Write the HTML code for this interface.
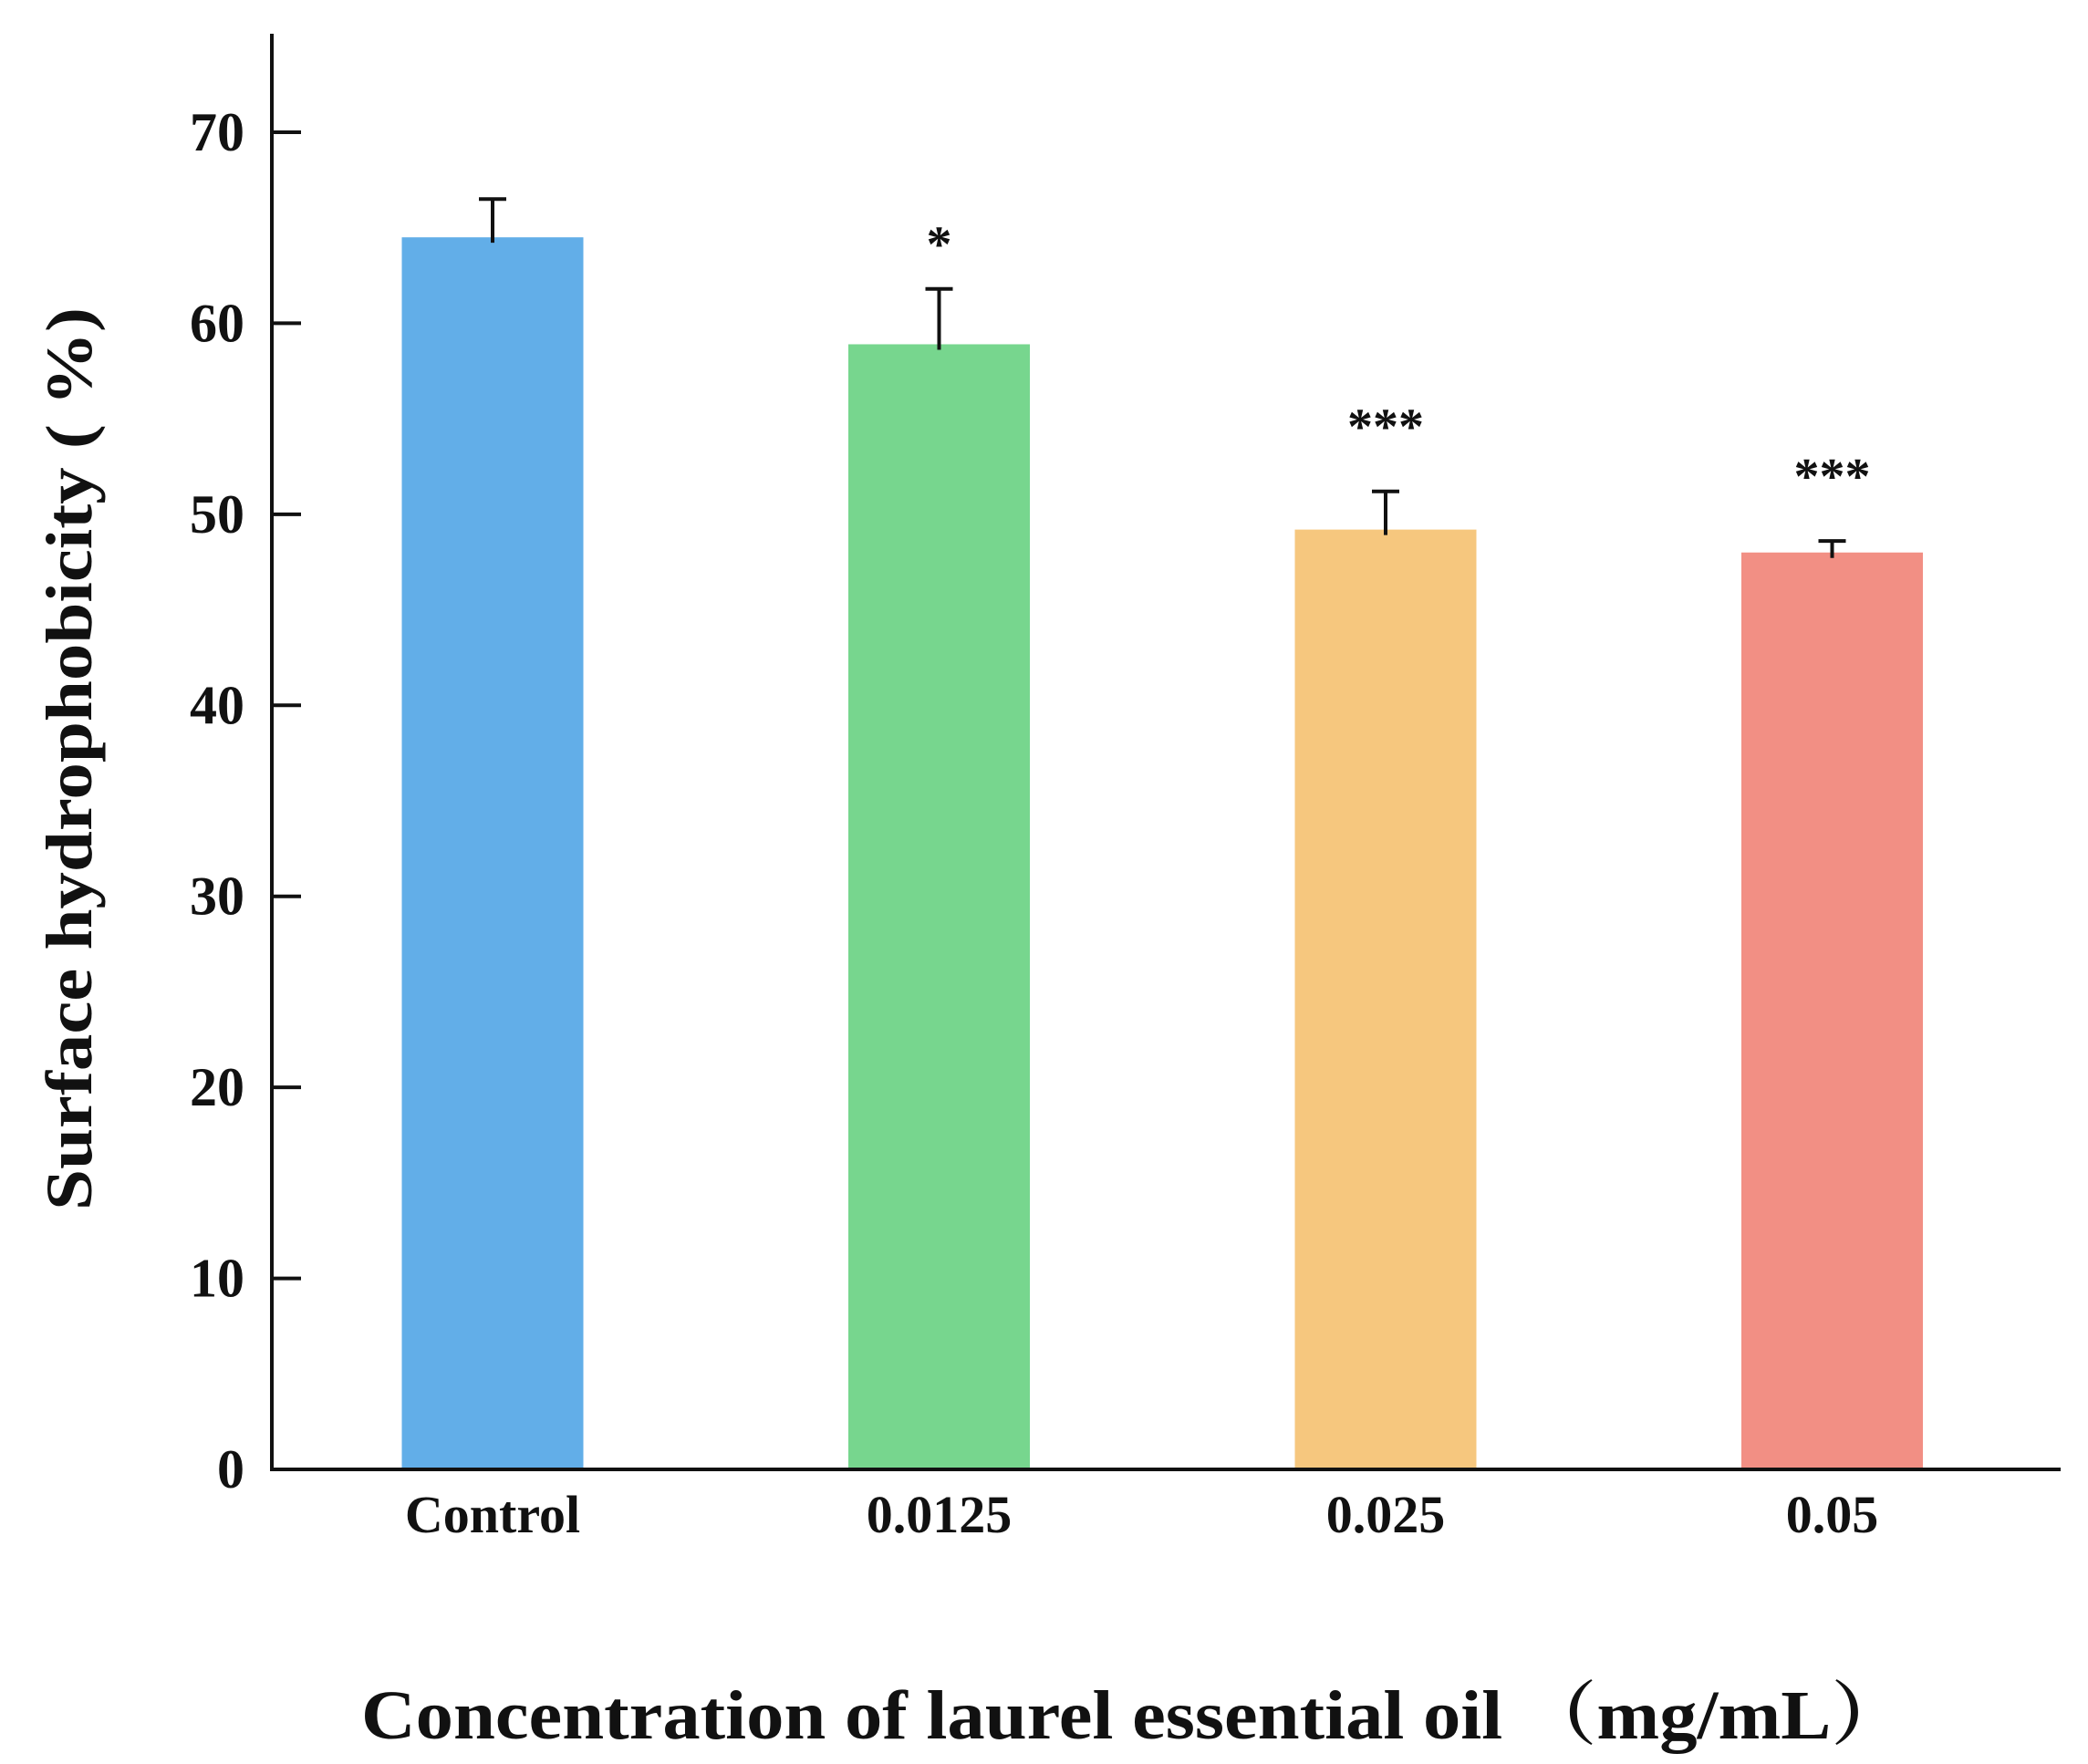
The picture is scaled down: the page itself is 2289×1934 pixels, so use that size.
<!DOCTYPE html>
<html><head><meta charset="utf-8"><style>
html,body{margin:0;padding:0;background:#fff;}
svg{display:block;}
text{font-family:"Liberation Serif","Noto Serif CJK SC",serif;font-weight:bold;fill:#111;}
</style></head><body>
<svg id="chart" width="2289" height="1934" viewBox="0 0 2289 1934" xmlns="http://www.w3.org/2000/svg">
<g id="axes"></g>
<g id="bars"></g>
<text transform="translate(100,832) rotate(-90)" text-anchor="middle" font-size="72" textLength="990" lengthAdjust="spacingAndGlyphs">Surface hydrophobicity ( %)</text>
<text x="396" y="1906" font-size="76" textLength="1694" lengthAdjust="spacingAndGlyphs">Concentration  of  laurel essential oil （mg/mL）</text>
</svg>
<script>
const categories = ["Control", "0.0125", "0.025", "0.05"];
const values = [64.5, 58.9, 49.2, 48.0];
const errors = [2.0, 2.9, 2.0, 0.6];
const signif = ["", "*", "***", "***"];
const yTicks = [0, 10, 20, 30, 40, 50, 60, 70];
const colors = ["#62AEE8", "#77D68E", "#F6C77E", "#F28F84"];

const NS = "http://www.w3.org/2000/svg";
const x0 = 298, x1 = 2259, yBase = 1611, yTop = 37;
const perUnit = (1611 - 145) / 70;
function y(v){ return yBase - v * perUnit; }
const bandStart = 540, bandStep = 489.5;
function xc(i){ return bandStart + i * bandStep; }
const barW = 199;

function mk(tag, attrs, parent){
  const e = document.createElementNS(NS, tag);
  for (const k in attrs) e.setAttribute(k, attrs[k]);
  parent.appendChild(e);
  return e;
}
const axes = document.getElementById('axes');
const bars = document.getElementById('bars');

let el = mk('line', {x1:x0, y1:yTop, x2:x0, y2:yBase+2, stroke:'#111', 'stroke-width':4}, axes);


el = mk('line', {x1:x0-2, y1:yBase, x2:x1, y2:yBase, stroke:'#111', 'stroke-width':4}, axes);



yTicks.forEach(t => {
  const tk = mk('line', {x1:x0, y1:y(t), x2:x0+32, y2:y(t), stroke:'#111', 'stroke-width':4}, axes);
  
  
  const lb = mk('text', {x:268, y:y(t)+20, 'text-anchor':'end', 'font-size':60}, axes);
  lb.textContent = t;
  
  
});

categories.forEach((c, i) => {
  const cx = xc(i);
  const r = mk('rect', {x:cx-barW/2, y:y(values[i]), width:barW, height:yBase-2-y(values[i]), fill:colors[i]}, bars);
  
  
  const ey = y(values[i] + errors[i]);
  const eb = mk('path', {d:`M${cx},${y(values[i])+6} V${ey} M${cx-15},${ey} H${cx+15}`, stroke:'#111', 'stroke-width':4, fill:'none'}, bars);
  
  
  if (signif[i]) {
    const off = signif[i].length > 1 ? 52 : 30;
    const s = mk('text', {x:cx, y:ey-off, 'text-anchor':'middle', 'font-size':56}, bars);
    s.textContent = signif[i];
    
    
  }
  const lb = mk('text', {x:cx, y:1680, 'text-anchor':'middle', 'font-size':58}, bars);
  lb.textContent = c;
  
  
});
</script>
</body></html>
